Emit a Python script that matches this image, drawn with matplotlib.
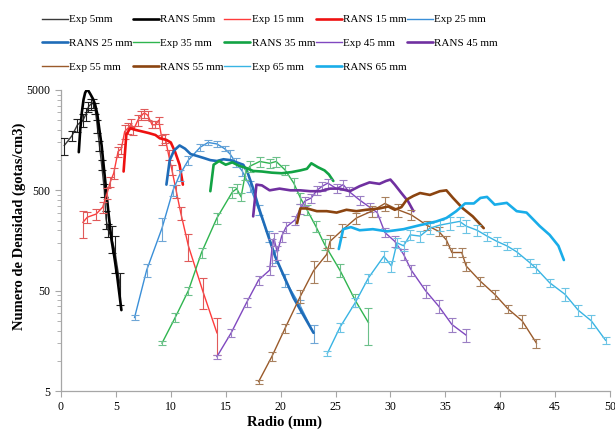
import matplotlib
matplotlib.use('Agg')
import matplotlib.pyplot as plt
import matplotlib.ticker as ticker

plt.rcParams['font.family'] = ['Liberation Serif', 'DejaVu Serif']

# ---------------------------------------------------------------------------
# Datos (radio en mm, densidad en gotas/cm3)
# ---------------------------------------------------------------------------
r_exp5 = [0.3, 1.0, 1.5, 2.0, 2.3, 2.5, 2.7, 2.9, 3.1, 3.3, 3.5, 3.7, 3.95, 4.1, 4.3, 4.6, 4.9, 5.4]
v_exp5 = [1400, 1750, 2250, 2500, 2900, 3400, 3600, 3700, 3300, 2200, 1400, 900, 500, 260, 200, 170, 125, 55]
e_exp5 = [0.2, 0.12, 0.15, 0.15, 0.15, 0.12, 0.12, 0.1, 0.12, 0.15, 0.12, 0.12, 0.15, 0.2, 0.15, 0.3, 0.4, 0.35]

r_rans5 = [1.62, 1.75, 1.9, 2.05, 2.2, 2.35, 2.5, 2.7, 2.9, 3.1, 3.3, 3.5, 3.7, 3.9, 4.1, 4.35, 4.6, 4.85, 5.1, 5.5]
v_rans5 = [1200, 2000, 3000, 4000, 4700, 5000, 4900, 4500, 4100, 3600, 2900, 2000, 1400, 850, 520, 280, 160, 110, 72, 32]

r_exp15 = [2.0, 2.4, 3.2, 3.8, 4.2, 4.5, 4.8, 5.2, 5.5, 5.8, 6.1, 6.4, 6.6, 7.0, 7.3,
           7.6, 7.9, 8.3, 8.6, 8.9, 9.2, 9.5, 9.8, 10.1, 10.5, 10.9, 11.6, 12.9, 14.2]
v_exp15 = [240, 270, 290, 340, 470, 610, 740, 1220, 1300, 1930, 2080, 2300, 2000, 2500, 2800,
           2950, 2800, 2250, 2250, 2500, 1600, 1650, 1130, 800, 490, 300, 140, 50, 19]
e_exp15 = [0.3, 0.12, 0.12, 0.12, 0.12, 0.12, 0.12, 0.12, 0.12, 0.15, 0.12, 0.12, 0.1, 0.12, 0.1,
           0.1, 0.1, 0.08, 0.08, 0.08, 0.12, 0.1, 0.12, 0.12, 0.15, 0.15, 0.3, 0.35, 0.4]

r_rans15 = [5.7, 5.95, 6.3, 6.8, 7.4, 8.0, 8.6, 9.0, 9.6, 10.0, 10.4, 10.8, 11.1]
v_rans15 = [770, 1800, 2080, 2000, 1930, 1860, 1780, 1650, 1590, 1500, 1200, 900, 570]

r_exp25 = [6.7, 7.8, 9.2, 10.2, 10.8, 11.6, 12.7, 13.4, 14.2, 14.9, 15.4, 15.9, 16.5, 17.2, 18.0, 18.9, 19.5, 20.4, 21.8, 23.0]
v_exp25 = [27, 80, 210, 500, 710, 1000, 1350, 1500, 1450, 1300, 1150, 950, 780, 550, 320, 175, 110, 64, 35, 19]
e_exp25 = [0.05, 0.15, 0.25, 0.12, 0.12, 0.1, 0.08, 0.06, 0.06, 0.06, 0.1, 0.1, 0.1, 0.12, 0.12, 0.12, 0.15, 0.15, 0.15, 0.2]

r_rans25 = [9.6, 9.9, 10.3, 10.8, 11.3, 11.8, 12.4, 13.0, 13.6, 14.2, 14.8, 15.4, 16.0, 16.6, 17.0,
            17.5, 18.0, 18.7, 19.5, 20.3, 21.2, 22.2, 23.0]
v_rans25 = [570, 1000, 1250, 1400, 1300, 1150, 1100, 1050, 1000, 980, 1020, 1000, 950, 900, 750,
            520, 340, 200, 110, 70, 42, 27, 19]

r_exp35 = [9.2, 10.4, 11.6, 12.8, 14.2, 15.6, 16.0, 16.4, 16.8, 17.2, 18.1, 19.0, 19.6, 20.4, 21.2,
           21.8, 22.4, 23.2, 24.0, 25.4, 26.8, 28.0]
v_exp35 = [15, 27, 50, 120, 265, 480, 520, 430, 740, 870, 970, 930, 970, 800, 590,
           420, 320, 220, 145, 80, 40, 24]
e_exp35 = [0.05, 0.1, 0.1, 0.12, 0.12, 0.12, 0.1, 0.1, 0.15, 0.12, 0.12, 0.1, 0.12, 0.12, 0.12,
           0.12, 0.12, 0.12, 0.12, 0.15, 0.15, 0.4]

r_rans35 = [13.6, 13.9, 14.4, 15.0, 15.6, 16.2, 16.8, 17.5, 18.3, 19.2, 20.1, 21.0, 21.8, 22.4, 22.8, 23.4, 24.0, 24.4, 24.8]
v_rans35 = [490, 900, 980, 900, 950, 880, 840, 780, 770, 750, 740, 760, 790, 820, 930, 850, 790, 720, 620]

r_exp45 = [14.2, 15.5, 16.9, 18.0, 19.0, 19.2, 19.4, 19.7, 20.1, 20.5, 21.3, 21.8, 22.2, 22.8, 23.3,
           23.8, 24.3, 25.1, 25.7, 26.2, 27.2, 28.1, 28.8, 29.5, 30.4, 31.2, 31.9, 33.2, 34.4, 35.6, 36.9]
v_exp45 = [11, 19, 38, 64, 80, 127, 165, 120, 175, 215, 253, 330, 390, 420, 500,
           550, 590, 520, 570, 490, 400, 340, 300, 190, 155, 115, 80, 50, 35, 23, 18]
e_exp45 = [0.05, 0.1, 0.1, 0.1, 0.1, 0.3, 0.15, 0.15, 0.12, 0.12, 0.1, 0.12, 0.1, 0.1, 0.1,
           0.1, 0.1, 0.1, 0.12, 0.1, 0.1, 0.1, 0.1, 0.1, 0.12, 0.12, 0.12, 0.15, 0.15, 0.15, 0.15]

r_rans45 = [17.5, 17.8, 18.3, 19.0, 19.9, 20.9, 21.8, 22.7, 23.6, 24.5, 25.4, 26.3, 27.2, 28.1, 29.0,
            29.6, 30.0, 30.4, 31.0, 31.6, 32.1]
v_rans45 = [275, 570, 560, 500, 520, 500, 500, 490, 490, 520, 520, 490, 550, 600, 580,
            620, 640, 570, 470, 390, 310]

r_exp55 = [18.0, 19.2, 20.4, 21.8, 23.0, 24.2, 24.5, 25.6, 26.9, 28.3, 29.5, 30.7, 31.9, 33.3, 34.4,
           35.1, 35.6, 36.5, 36.9, 38.2, 39.5, 40.7, 42.0, 43.3]
v_exp55 = [6.2, 11, 21, 44, 79, 115, 155, 200, 265, 310, 370, 320, 285, 225, 195,
           160, 120, 120, 88, 62, 46, 33, 25, 15]
e_exp55 = [0.05, 0.1, 0.1, 0.15, 0.25, 0.15, 0.15, 0.15, 0.12, 0.12, 0.15, 0.15, 0.12, 0.1, 0.1,
           0.1, 0.1, 0.1, 0.1, 0.1, 0.1, 0.1, 0.15, 0.1]

r_rans55 = [21.5, 21.8, 22.4, 23.3, 24.2, 25.1, 26.0, 26.9, 27.8, 29.0, 29.8, 30.4, 31.0, 31.5, 32.1,
            32.7, 33.6, 34.5, 35.1, 35.7, 36.6, 37.5, 38.5]
v_rans55 = [235, 330, 330, 310, 310, 300, 320, 310, 320, 330, 345, 320, 340, 405, 440,
            470, 450, 490, 500, 420, 330, 275, 210]

r_exp65 = [24.25, 25.4, 26.8, 28.0, 29.4, 30.1, 30.6, 31.2, 31.8, 32.7, 33.6, 34.5, 35.4, 36.3, 36.9,
           37.9, 38.8, 39.7, 40.6, 41.5, 42.7, 43.3, 44.5, 45.9, 47.1, 48.3, 49.6]
v_exp65 = [11.8, 21.5, 38, 67, 110, 88, 150, 140, 180, 175, 210, 225, 235, 245, 220,
           200, 175, 155, 140, 122, 95, 83, 60, 46, 32, 25, 16]
e_exp65 = [0.05, 0.1, 0.1, 0.1, 0.12, 0.12, 0.12, 0.12, 0.12, 0.12, 0.12, 0.12, 0.15, 0.1, 0.15,
           0.12, 0.1, 0.1, 0.1, 0.1, 0.1, 0.1, 0.1, 0.15, 0.12, 0.15, 0.08]

r_rans65 = [25.3, 25.7, 26.4, 27.2, 28.4, 29.7, 31.2, 32.7, 34.2, 35.1, 36.0, 36.8, 37.6, 38.2, 38.8,
            39.5, 40.6, 41.5, 42.4, 43.6, 44.5, 45.3, 45.8]
v_rans65 = [130, 205, 215, 200, 205, 195, 205, 225, 245, 265, 310, 370, 370, 420, 430,
            360, 375, 310, 300, 220, 180, 140, 101]

# (etiqueta, radio, valor, error relativo, color linea, color barra)
series = [
    ('Exp 5mm', r_exp5, v_exp5, e_exp5, '#3a3a3a', '#202020'),
    ('RANS 5mm', r_rans5, v_rans5, None, '#000000', None),
    ('Exp 15 mm', r_exp15, v_exp15, e_exp15, '#ff3b3b', '#e05a5a'),
    ('RANS 15 mm', r_rans15, v_rans15, None, '#ee1111', None),
    ('Exp 25 mm', r_exp25, v_exp25, e_exp25, '#3a8fd8', '#6fa6d6'),
    ('RANS 25 mm', r_rans25, v_rans25, None, '#1f6cb8', None),
    ('Exp 35 mm', r_exp35, v_exp35, e_exp35, '#2fb54f', '#6cc08a'),
    ('RANS 35 mm', r_rans35, v_rans35, None, '#12a344', None),
    ('Exp 45 mm', r_exp45, v_exp45, e_exp45, '#8048c0', '#9b7fc4'),
    ('RANS 45 mm', r_rans45, v_rans45, None, '#7030a0', None),
    ('Exp 55 mm', r_exp55, v_exp55, e_exp55, '#9a5a2a', '#a8805e'),
    ('RANS 55 mm', r_rans55, v_rans55, None, '#8b4410', None),
    ('Exp 65 mm', r_exp65, v_exp65, e_exp65, '#38b4e4', '#6cc4e4'),
    ('RANS 65 mm', r_rans65, v_rans65, None, '#19ade9', None),
]

fig = plt.figure(figsize=(6.15, 4.32), dpi=100)
ax = fig.add_axes([61 / 615, 1 - 391 / 432, 549 / 615, 301 / 432])

handles = []
labels = []
for lab, r, v, e, col, ecol in series:
    if e is None:
        ln, = ax.plot(r, v, color=col, lw=1.9, solid_capstyle='round', zorder=3)
    else:
        ln, = ax.plot(r, v, color=col, lw=1.0, zorder=3)
        yerr = [ee * vv for ee, vv in zip(e, v)]
        ax.errorbar(r, v, yerr=yerr, fmt='none', ecolor=ecol, elinewidth=0.8,
                    capsize=3, capthick=0.8, zorder=3)
    handles.append(ln)
    labels.append(lab)

ax.set_yscale('log')
ax.set_xlim(0, 50)
ax.set_ylim(5, 5000)
ax.set_xticks(range(0, 51, 5))
ax.yaxis.set_major_locator(ticker.FixedLocator([5, 50, 500, 5000]))
ax.yaxis.set_major_formatter(ticker.FixedFormatter(['5', '50', '500', '5000']))
minors = [k * 5 * 10 ** p for p in range(3) for k in range(2, 10)]
ax.yaxis.set_minor_locator(ticker.FixedLocator(minors))
ax.yaxis.set_minor_formatter(ticker.NullFormatter())

for s in ['top', 'right']:
    ax.spines[s].set_visible(False)
for s in ['left', 'bottom']:
    ax.spines[s].set_color('#a6a6a6')
    ax.spines[s].set_linewidth(0.9)
ax.tick_params(axis='both', which='both', direction='out', color='#a6a6a6', labelsize=8.5)
ax.tick_params(axis='both', which='major', length=4)
ax.tick_params(axis='y', which='minor', length=3)

ax.set_xlabel('Radio (mm)', fontsize=10.5, fontweight='bold')
ax.set_ylabel('Numero de Densidad (gotas/cm3)', fontsize=10.5, fontweight='bold')
ax.xaxis.set_label_coords(0.408, -0.08)
ax.yaxis.set_label_coords(-0.064, 0.548)

order = [0, 5, 10, 1, 6, 11, 2, 7, 12, 3, 8, 13, 4, 9]
fig.legend([handles[i] for i in order], [labels[i] for i in order], ncol=5,
           loc='upper left', bbox_to_anchor=(0.068, 0.966), frameon=False, fontsize=8,
           handlelength=2.35, handletextpad=0.1, columnspacing=0.05, labelspacing=1.27,
           borderpad=0, borderaxespad=0)

fig.savefig('out.png', dpi=100)
